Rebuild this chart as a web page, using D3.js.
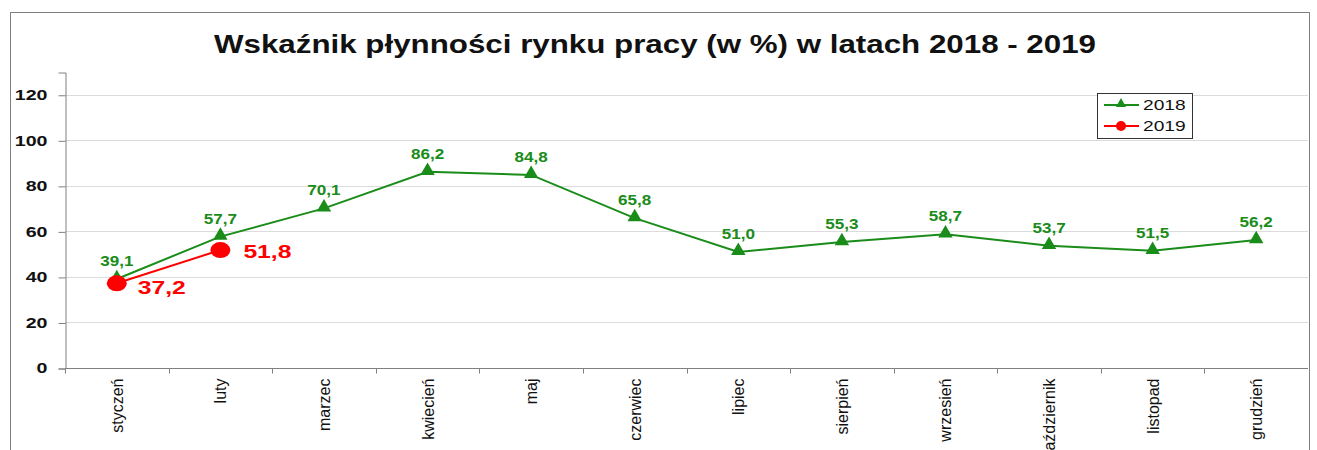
<!DOCTYPE html>
<html>
<head>
<meta charset="utf-8">
<script src="https://cdn.jsdelivr.net/npm/d3@7"></script>
<style>
  body { margin: 0; background: #fff; }
  svg { display: block; }
</style>
</head>
<body>
<svg id="chart" width="1317" height="450"></svg>
<script>
var months = ["styczeń", "luty", "marzec", "kwiecień", "maj", "czerwiec", "lipiec",
  "sierpień", "wrzesień", "październik", "listopad", "grudzień"];
var values2018 = [39.1, 57.7, 70.1, 86.2, 84.8, 65.8, 51.0, 55.3, 58.7, 53.7, 51.5, 56.2];
var values2019 = [37.2, 51.8];
var yTicks = [0, 20, 40, 60, 80, 100, 120];

var green = "#1a8c1a", red = "#ff0000";
var svg = d3.select("#chart");
var plotLeft = 65, plotRight = 1308, plotTop = 72, plotBottom = 368;

// the original's fonts are wide, so stretch text horizontally
function widen(sel, k) {
  sel.each(function(){
    var w = this.getComputedTextLength();
    d3.select(this).attr("textLength", w * k).attr("lengthAdjust", "spacingAndGlyphs");
  });
}

// outer frame
svg.append("rect").attr("x", 10.5).attr("y", 12.5).attr("width", 1299).attr("height", 460)
  .attr("fill", "none").attr("stroke", "#808080").attr("stroke-width", 1);

svg.append("text").attr("x", 655).attr("y", 53).attr("text-anchor", "middle")
  .attr("font-family", "Liberation Sans Narrow, Arial Narrow, sans-serif").attr("font-weight", "bold")
  .attr("font-size", 25).attr("textLength", 882).attr("lengthAdjust", "spacingAndGlyphs")
  .attr("fill", "#111")
  .text("Wskaźnik płynności rynku pracy  (w %) w latach  2018  -  2019");

var x = d3.scaleBand().domain(months).range([plotLeft, plotRight]);
var y = d3.scaleLinear().domain([0, 130]).range([plotBottom, plotTop]);

// grid
svg.append("g").selectAll("line").data(yTicks.slice(1)).join("line")
  .attr("x1", plotLeft).attr("x2", plotRight)
  .attr("y1", function(d){ return Math.round(y(d)) + 0.5; })
  .attr("y2", function(d){ return Math.round(y(d)) + 0.5; })
  .attr("stroke", "#dcdcdc").attr("stroke-width", 1);

// y axis
var yAxis = svg.append("g").attr("transform", "translate(" + (plotLeft + 0.5) + ",0.5)")
  .call(d3.axisLeft(y).tickValues(yTicks).tickSize(7).tickPadding(11));
yAxis.select(".domain").attr("stroke", "#808080");
yAxis.selectAll(".tick line").attr("stroke", "#808080");
yAxis.selectAll("text").attr("font-family", "Liberation Sans, Arial, sans-serif")
  .attr("font-size", 14).attr("font-weight", "bold").attr("fill", "#111");
widen(yAxis.selectAll("text"), 1.4);

// x axis
var xg = svg.append("g").attr("transform", "translate(0," + (plotBottom + 0.5) + ")");
xg.append("line").attr("x1", plotLeft).attr("x2", plotRight).attr("stroke", "#808080");
xg.selectAll("line.tk").data(months).join("line").attr("class", "tk")
  .attr("x1", function(d){ return Math.round(x(d)) + 0.5; })
  .attr("x2", function(d){ return Math.round(x(d)) + 0.5; })
  .attr("y1", 0).attr("y2", 5).attr("stroke", "#808080");
xg.selectAll("text").data(months).join("text")
  .attr("transform", function(d){
    return "translate(" + (x(d) + x.bandwidth() / 2 + 6) + ",10) rotate(-90)";
  })
  .attr("text-anchor", "end")
  .attr("font-family", "Liberation Sans Narrow, Arial Narrow, sans-serif")
  .attr("font-size", 16).attr("fill", "#111")
  .text(function(d){ return d; });

var cx = function(i){ return x(months[i]) + x.bandwidth() / 2; };
var line = d3.line().x(function(d, i){ return cx(i); }).y(function(d){ return y(d); });

svg.append("path").datum(values2018).attr("d", line)
  .attr("fill", "none").attr("stroke", green).attr("stroke-width", 2);
svg.append("path").datum(values2019).attr("d", line)
  .attr("fill", "none").attr("stroke", red).attr("stroke-width", 2);

var tri = d3.symbol().type(d3.symbolTriangle).size(90);
svg.append("g").selectAll("path").data(values2018).join("path")
  .attr("d", tri)
  .attr("transform", function(d, i){ return "translate(" + cx(i) + "," + (y(d) - 1) + ")"; })
  .attr("fill", green);
svg.append("g").selectAll("ellipse").data(values2019).join("ellipse")
  .attr("cx", function(d, i){ return cx(i); }).attr("cy", function(d){ return y(d); })
  .attr("rx", 10).attr("ry", 8).attr("fill", red);

var fmt = function(d){ return d.toFixed(1).replace(".", ","); };

var greenLabels = svg.append("g").selectAll("text").data(values2018).join("text")
  .attr("x", function(d, i){ return cx(i); })
  .attr("y", function(d){ return y(d) - 13; })
  .attr("text-anchor", "middle")
  .attr("font-family", "Liberation Sans, Arial, sans-serif").attr("font-weight", "bold")
  .attr("font-size", 14).attr("fill", green)
  .text(fmt);
widen(greenLabels, 1.22);

var redDx = [21, 23], redDy = [11, 8];
var redLabels = svg.append("g").selectAll("text").data(values2019).join("text")
  .attr("x", function(d, i){ return cx(i) + redDx[i]; })
  .attr("y", function(d, i){ return y(d) + redDy[i]; })
  .attr("font-family", "Liberation Sans, Arial, sans-serif").attr("font-weight", "bold")
  .attr("font-size", 19).attr("fill", red)
  .text(fmt);
widen(redLabels, 1.3);

// legend
var lg = svg.append("g").attr("transform", "translate(1097,93)");
lg.append("rect").attr("x", 0.5).attr("y", 0.5).attr("width", 95).attr("height", 45)
  .attr("fill", "#fff").attr("stroke", "#333");
var series = [{ name: "2018", color: green, mark: "tri" }, { name: "2019", color: red, mark: "dot" }];
var items = lg.selectAll("g").data(series).join("g")
  .attr("transform", function(d, i){ return "translate(0," + (12 + i * 21) + ")"; });
items.append("line").attr("x1", 7).attr("x2", 42).attr("stroke", function(d){ return d.color; })
  .attr("stroke-width", 2);
items.each(function(d){
  var g = d3.select(this);
  if (d.mark === "tri") {
    g.append("path").attr("d", d3.symbol().type(d3.symbolTriangle).size(45))
      .attr("transform", "translate(24,-1)").attr("fill", d.color);
  } else {
    g.append("circle").attr("cx", 24).attr("cy", 0).attr("r", 5).attr("fill", d.color);
  }
});
var legendText = items.append("text").attr("x", 46).attr("y", 5)
  .attr("font-family", "Liberation Sans, Arial, sans-serif").attr("font-size", 15)
  .attr("fill", "#111").text(function(d){ return d.name; });
widen(legendText, 1.28);
</script>
</body>
</html>
